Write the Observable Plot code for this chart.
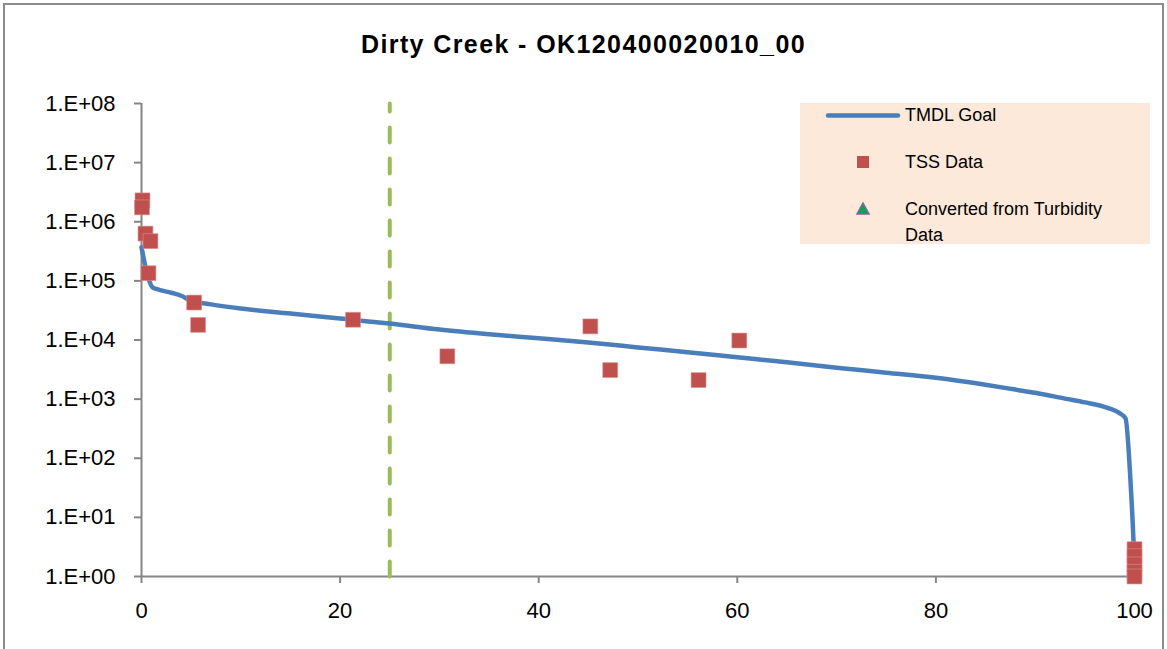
<!DOCTYPE html>
<html>
<head>
<meta charset="utf-8">
<script src="https://cdn.jsdelivr.net/npm/d3@7"></script>
<script src="https://cdn.jsdelivr.net/npm/@observablehq/plot@0.6"></script>
<style>
  html, body { margin: 0; padding: 0; background: #fff; }
  #wrap { position: relative; width: 1167px; height: 649px; overflow: hidden; font-family: "Liberation Sans", Arial, sans-serif; }
  #frame { position: absolute; left: 3px; top: 3px; width: 1161px; height: 660px; border: 2px solid #8c8c8c; box-sizing: border-box; }
  #title { position: absolute; left: 0; width: 1167px; top: 30px; text-align: center; font-weight: bold; font-size: 25px; letter-spacing: 1.4px; color: #000; }
  #chart { position: absolute; left: 0; top: 0; }
  #legend { position: absolute; left: 800px; top: 103px; width: 350px; height: 141px; background: #fde9da; font-size: 18px; color: #000; }
  .li { position: absolute; left: 105px; line-height: 26px; }
</style>
</head>
<body>
<div id="wrap">
  <div id="frame"></div>
  <div id="chart"></div>
  <div id="title">Dirty Creek - OK120400020010_00</div>
  <div id="legend">
    <svg width="350" height="141" style="position:absolute;left:0;top:0">
      <line x1="28" x2="98" y1="12.5" y2="12.5" stroke="#4a7ebb" stroke-width="4.5" stroke-linecap="round"/>
      <rect x="57" y="53" width="12" height="12" fill="#c0504d"/>
      <polygon points="63,100 69,111 57,111" fill="#00a651" stroke="#8064a2" stroke-width="1.5"/>
    </svg>
    <div class="li" style="top:-1px">TMDL Goal</div>
    <div class="li" style="top:46px">TSS Data</div>
    <div class="li" style="top:93px">Converted from Turbidity<br>Data</div>
  </div>
</div>
<script>
// TMDL goal curve (percent of days flow exceeded vs load)
const goalX = [0, 0.2, 0.4, 0.7, 1.1, 1.5, 3, 4, 5, 7, 10, 15, 20, 25, 30, 35, 40, 45, 50, 55, 60, 65, 70, 75, 80, 85, 88, 90, 93, 95, 96.5, 97.5, 98.5, 99.1, 99.6, 99.9, 100];
const goalY = [3.7e5, 2.5e5, 1.7e5, 1.1e5, 7.8e4, 7.3e4, 6.3e4, 5.6e4, 4.6e4, 4.0e4, 3.4e4, 2.8e4, 2.3e4, 1.9e4, 1.5e4, 1.25e4, 1.07e4, 9.1e3, 7.5e3, 6.2e3, 5.1e3, 4.2e3, 3.4e3, 2.8e3, 2.3e3, 1.75e3, 1.45e3, 1.28e3, 1.02e3, 880, 780, 690, 580, 470, 40, 4, 1.5];

// TSS data
const tssX = [0.1, 0.05, 0.4, 0.9, 0.7, 5.3, 5.7, 21.3, 30.8, 45.2, 47.2, 56.1, 60.2, 100, 100, 100, 100, 100];
const tssY = [2.3e6, 1.75e6, 6.3e5, 4.7e5, 1.35e5, 4.3e4, 1.8e4, 2.2e4, 5.3e3, 1.7e4, 3.1e3, 2.1e3, 9.8e3, 2.9, 2.2, 1.6, 1.2, 1.0];

// Reference line (25th percentile)
const refX = [25];

const yTicks = [1, 1e1, 1e2, 1e3, 1e4, 1e5, 1e6, 1e7, 1e8];
const xTicks = [0, 20, 40, 60, 80, 100];

const goal = goalX.map((x, i) => ({x, y: goalY[i]}));
const tss = tssX.map((x, i) => ({x, y: tssY[i]}));
const ref = refX.flatMap(x => [{x, y: 1}, {x, y: 1e8}]);

const fmt = d => "1.E+" + String(Math.round(Math.log10(d))).padStart(2, "0");

const chart = Plot.plot({
  width: 1167,
  height: 649,
  marginLeft: 141,
  marginRight: 33,
  marginTop: 103,
  marginBottom: 73,
  style: {fontFamily: "'Liberation Sans', Arial, sans-serif", fontSize: "22px", color: "#000", background: "transparent"},
  x: {domain: [0, 100], ticks: xTicks},
  y: {type: "log", domain: [1, 1e8], ticks: yTicks},
  marks: [
    Plot.ruleX([0], {stroke: "#868686", strokeWidth: 2}),
    Plot.ruleY([1], {stroke: "#868686", strokeWidth: 2}),
    Plot.axisX({ticks: xTicks, tickSize: 7, tickPadding: 19, stroke: "#868686", strokeWidth: 2, tickFormat: d => String(d), fill: "#000", label: null, fontSize: 22}),
    Plot.axisY({ticks: yTicks, tickSize: 7, tickPadding: 19, stroke: "#868686", strokeWidth: 2, tickFormat: fmt, fill: "#000", label: null, fontSize: 22}),
    Plot.line(ref, {x: "x", y: "y", stroke: "#9bbb59", strokeWidth: 4, strokeDasharray: "15,16", strokeLinecap: "round"}),
    Plot.line(goal, {x: "x", y: "y", stroke: "#4a7ebb", strokeWidth: 4.5, curve: "monotone-x"}),
    Plot.dot(tss, {x: "x", y: "y", symbol: "square", r: 8.4, fill: "#c0504d", stroke: "#d8908e", strokeWidth: 0.6})
  ]
});
document.getElementById("chart").appendChild(chart);
</script>
</body>
</html>
